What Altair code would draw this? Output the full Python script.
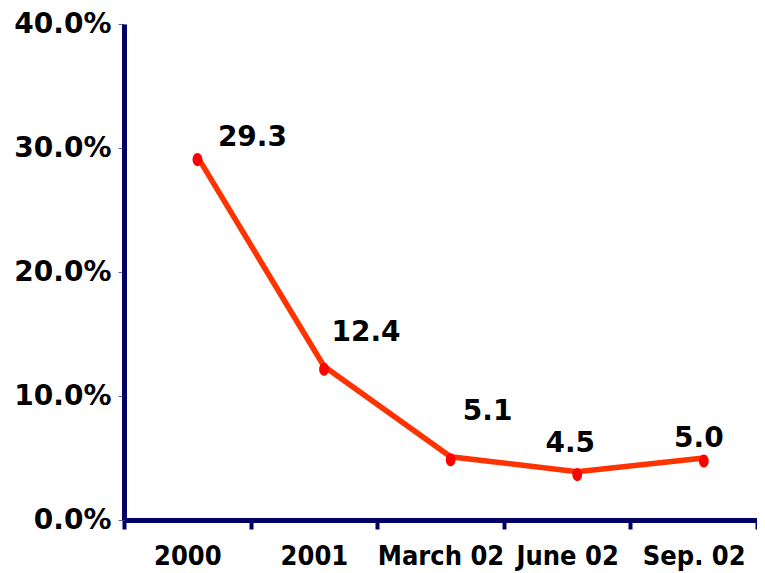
import altair as alt
import pandas as pd

categories = ["2000", "2001", "March 02", "June 02", "Sep. 02"]
values = [29.3, 12.4, 5.1, 3.9, 5.0]
labels = ["29.3", "12.4", "5.1", "4.5", "5.0"]
y_ticks = [0, 10, 20, 30, 40]

df = pd.DataFrame({"period": categories, "rate": values, "label": labels,
                   "idx": list(range(len(categories)))})

NAVY = "#000066"
BOLD_FONT = "DejaVu Sans"

x_enc = alt.X(
    "period:N", sort=categories, bandPosition=0.58,
    scale=alt.Scale(type="band", paddingInner=0, paddingOuter=0),
    axis=alt.Axis(
        title=None, labelAngle=0, tickBand="extent",
        domainColor=NAVY, domainWidth=5, tickColor=NAVY, tickWidth=4, tickSize=9,
        labelFont="DejaVu Sans Condensed, DejaVu Sans", labelFontWeight="bold",
        labelFontSize=27, labelColor="black", labelPadding=14, labelOverlap=False,
        labelBound=False, grid=False, gridOpacity=0,
    ),
)
y_enc = alt.Y(
    "rate:Q",
    scale=alt.Scale(domain=[0, 40], nice=False, zero=True),
    axis=alt.Axis(
        title=None, values=y_ticks,
        labelExpr="format(datum.value, '.1f') + '%'",
        domainColor=NAVY, domainWidth=5, tickColor="#6a6aa8", tickWidth=1, tickSize=6,
        labelFont=BOLD_FONT, labelFontWeight="bold", labelFontSize=28,
        labelColor="black", labelPadding=7, grid=False, gridOpacity=0,
        labelOverlap=False,
    ),
)

base = alt.Chart(df)

line = base.mark_line(color="#FF3300", strokeWidth=5.5).encode(x=x_enc, y=y_enc)

ellipse = "M -0.75 0.45 A 0.75 1 0 1 0 0.75 0.45 A 0.75 1 0 1 0 -0.75 0.45 Z"
points = base.mark_point(shape=ellipse, filled=True, color="#FF0000", size=170,
                         opacity=1).encode(x=x_enc, y=y_enc)

offsets = [(55, -19), (42, -33), (37, -45), (-7, -28), (-5, -19)]
text_layers = []
for i, (dx, dy) in enumerate(offsets):
    text_layers.append(
        base.transform_filter(alt.datum.idx == i).mark_text(
            dx=dx, dy=dy, font=BOLD_FONT, fontWeight="bold", fontSize=28,
            color="black", align="center", baseline="middle",
        ).encode(x=x_enc, y=y_enc, text="label:N")
    )

chart = alt.layer(line, points, *text_layers).properties(
    width=633, height=496,
    view=alt.ViewBackground(strokeWidth=0, strokeOpacity=0),
    autosize=alt.AutoSizeParams(type="none"),
    padding={"left": 116, "top": 16, "right": 0, "bottom": 53},
).configure_view(strokeWidth=0, strokeOpacity=0).configure_axis(
    grid=False, gridOpacity=0).configure(background="white")

chart.save("out.html", embed_options={"renderer": "svg", "actions": False})
